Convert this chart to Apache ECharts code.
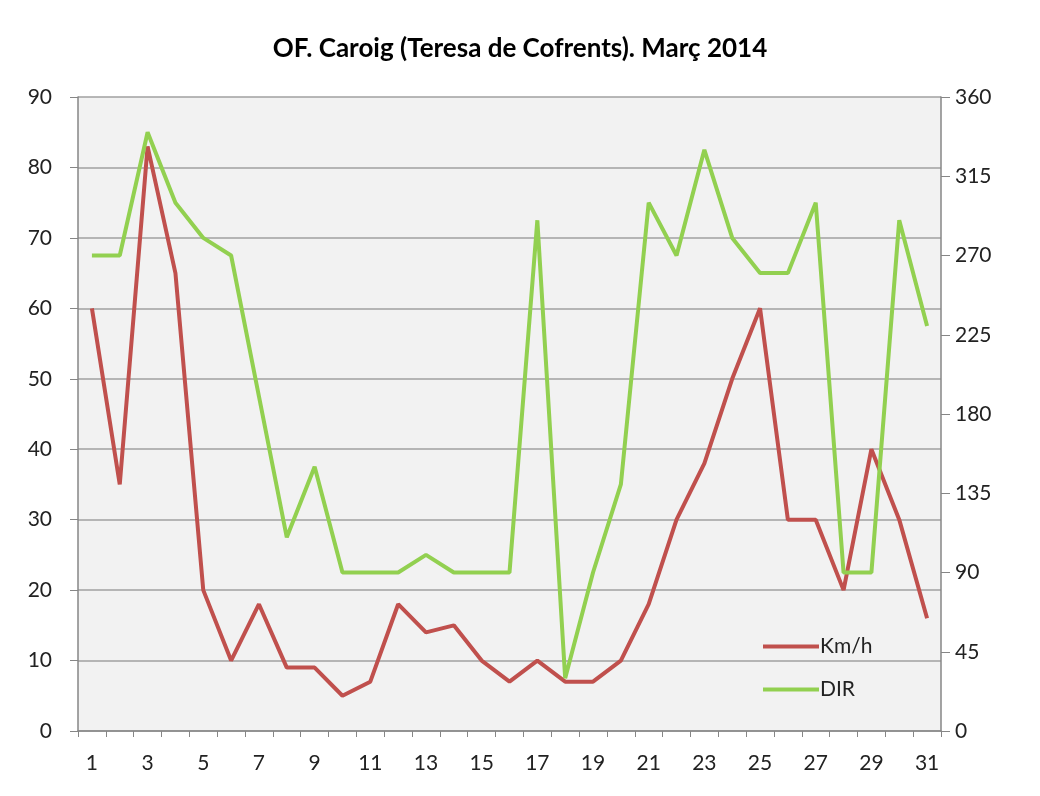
<!DOCTYPE html>
<html lang="ca">
<head>
    <meta charset="UTF-8">
    <title>OF. Caroig</title>
    <script src="https://cdn.jsdelivr.net/npm/echarts@6/dist/echarts.min.js"></script>
    <style>
        html, body { margin: 0; padding: 0; background: #fff; }
        #charts { width: 1040px; height: 796px; }
    </style>
</head>
<body>
    <div id="charts"></div>
    <script type="text/javascript">
        // dies del mes
        var days = [];
        for (var i = 1; i <= 31; i++) { days.push(String(i)); }
        // velocitat (km/h)
        var kmh = [60, 35, 83, 65, 20, 10, 18, 9, 9, 5, 7, 18, 14, 15, 10, 7,
                   10, 7, 7, 10, 18, 30, 38, 50, 60, 30, 30, 20, 40, 30, 16];
        // direccio (graus)
        var dir = [270, 270, 340, 300, 280, 270, 190, 110, 150, 90, 90, 90, 100, 90, 90, 90,
                   290, 30, 90, 140, 300, 270, 330, 280, 260, 260, 300, 90, 90, 290, 230];

        var fontFam = 'Lato, "Open Sans", sans-serif';
        var axisGray = '#868686';

        var myChart = echarts.init(document.getElementById('charts'));
        var option = {
            backgroundColor: '#fff',
            animation: false,
            title: {
                text: 'OF. Caroig (Teresa de Cofrents). Març 2014',
                left: 'center',
                top: 31,
                textStyle: { fontFamily: fontFam, fontWeight: 'bold', fontSize: 26, color: '#000' }
            },
            legend: {
                orient: 'vertical',
                left: 758,
                top: 631,
                itemWidth: 56,
                itemHeight: 4,
                itemGap: 22,
                icon: 'rect',
                textStyle: { fontFamily: fontFam, fontSize: 21, color: '#222', padding: [0, 0, 0, -4] },
                data: ['Km/h', 'DIR']
            },
            grid: {
                left: 78, right: 99, top: 97, bottom: 65,
                show: true,
                backgroundColor: '#f2f2f2',
                borderWidth: 0
            },
            xAxis: {
                type: 'category',
                data: days,
                boundaryGap: true,
                axisLine: { lineStyle: { color: axisGray, width: 1.5 } },
                axisTick: { show: true, interval: 0, length: 6, lineStyle: { color: axisGray } },
                axisLabel: { interval: 1, margin: 22, fontFamily: fontFam, fontSize: 21, color: '#222' }
            },
            yAxis: [
                {
                    type: 'value',
                    min: 0, max: 90, interval: 10,
                    axisLine: { show: true, lineStyle: { color: axisGray, width: 1.5 } },
                    axisTick: { show: true, length: 8, lineStyle: { color: axisGray } },
                    axisLabel: { margin: 26, fontFamily: fontFam, fontSize: 21, color: '#222' },
                    splitLine: { show: true, lineStyle: { color: '#a0a0a0', width: 1.5 } }
                },
                {
                    type: 'value',
                    position: 'right',
                    min: 0, max: 360, interval: 45,
                    axisLine: { show: true, lineStyle: { color: axisGray, width: 1.5 } },
                    axisTick: { show: true, length: 9, lineStyle: { color: axisGray } },
                    axisLabel: { margin: 14, fontFamily: fontFam, fontSize: 21, color: '#222' },
                    splitLine: { show: false }
                }
            ],
            series: [
                {
                    name: 'Km/h',
                    type: 'line',
                    yAxisIndex: 0,
                    data: kmh,
                    symbol: 'none',
                    lineStyle: { width: 4, color: '#c0504d' },
                    itemStyle: { color: '#c0504d' }
                },
                {
                    name: 'DIR',
                    type: 'line',
                    yAxisIndex: 1,
                    data: dir,
                    symbol: 'none',
                    lineStyle: { width: 4, color: '#92d050' },
                    itemStyle: { color: '#92d050' }
                }
            ]
        };
        myChart.setOption(option);
    </script>
</body>
</html>
